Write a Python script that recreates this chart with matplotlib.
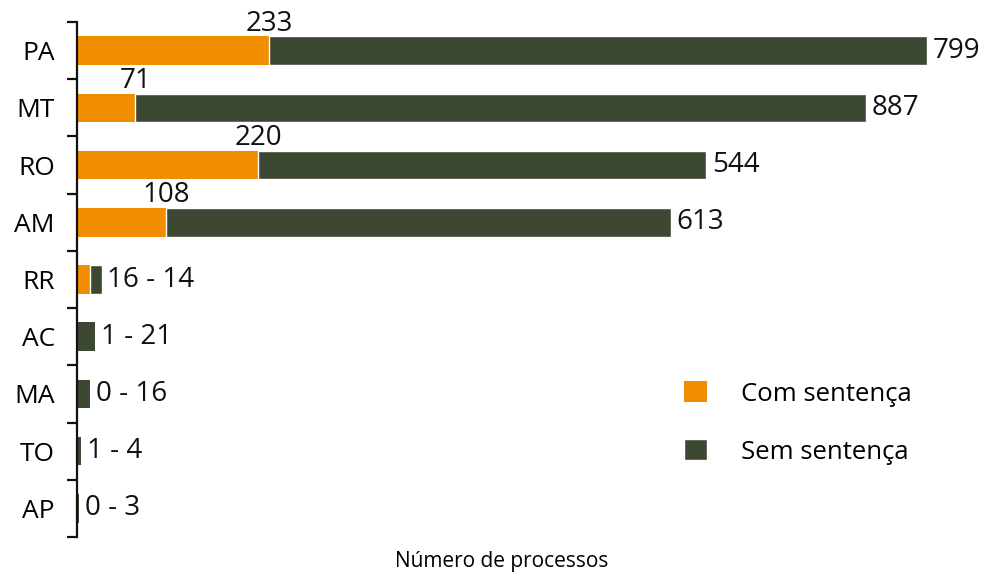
import matplotlib
matplotlib.use("Agg")
import matplotlib.pyplot as plt
import numpy as np

plt.rcParams["font.family"] = ["Open Sans", "DejaVu Sans"]

estados = ["PA", "MT", "RO", "AM", "RR", "AC", "MA", "TO", "AP"]
com_sentenca = [233, 71, 220, 108, 16, 1, 0, 1, 0]
sem_sentenca = [799, 887, 544, 613, 14, 21, 16, 4, 3]

cor_com = "#F18D00"
cor_sem = "#3C4832"

fig = plt.figure(figsize=(9.86, 5.79), dpi=100)
ax = fig.add_axes([0.0781, 0.0725, 0.8621, 0.8895])

y = np.arange(len(estados))
com = np.array(com_sentenca)
sem = np.array(sem_sentenca)

# linha branca entre os segmentos só onde a parte laranja aparece
sep = [1.0 if c >= 10 else 0 for c in com]
ax.barh(y, com, height=0.5, color=cor_com, label="Com sentença")
ax.barh(y, sem, left=com, height=0.5, color=cor_sem, label="Sem sentença",
        edgecolor="white", linewidth=sep)

total = com + sem
for i in range(len(estados)):
    if com[i] > 50:
        ax.annotate(str(com[i]), (com[i], i - 0.25), xytext=(0, -1),
                    textcoords="offset points", ha="center", va="bottom",
                    fontsize=20, color="#111111")
        txt = str(sem[i])
    else:
        txt = f"{com[i]} - {sem[i]}"
    ax.annotate(txt, (total[i], i), xytext=(4, 0), textcoords="offset points",
                ha="left", va="center", fontsize=20, color="#111111")

ax.set_xlim(0, total.max())
ax.set_ylim(len(estados) - 0.5, -0.5)

ax.set_yticks(y)
ax.set_yticklabels(estados, fontsize=19)
ax.set_yticks(np.arange(-0.5, len(estados)), minor=True)
ax.tick_params(axis="y", which="major", length=0, pad=16)
ax.tick_params(axis="y", which="minor", length=7.5, width=1.6, color="#111111")
ax.set_xticks([])

for s in ["top", "right", "bottom"]:
    ax.spines[s].set_visible(False)
ax.spines["left"].set_linewidth(1.6)
ax.spines["left"].set_color("#111111")

ax.set_xlabel("Número de processos", fontsize=15, labelpad=10)

leg = ax.legend(loc="upper left", bbox_to_anchor=(684 / 986, 1 - 381 / 579),
                bbox_transform=fig.transFigure, frameon=False, fontsize=18.5,
                handlelength=0.9, handleheight=0.9, handletextpad=1.3,
                labelspacing=1.27, borderpad=0, borderaxespad=0)

fig.savefig("out.png", dpi=100)
